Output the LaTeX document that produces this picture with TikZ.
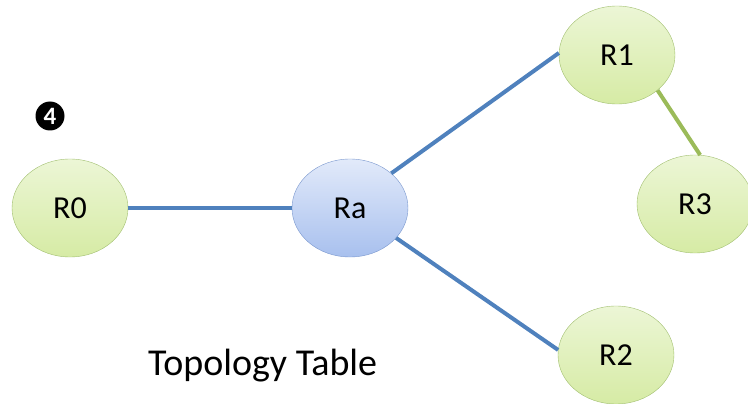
\documentclass[tikz,border=0pt]{standalone}
\usepackage{fontspec}
\setmainfont{Carlito}
\usetikzlibrary{positioning,shapes.geometric}

\definecolor{linkblue}{RGB}{79,129,189}
\definecolor{linkgreen}{RGB}{155,187,89}
\definecolor{rtrline}{RGB}{160,190,110}
\definecolor{hubline}{RGB}{120,150,205}
\definecolor{rtrtop}{RGB}{236,246,214}
\definecolor{rtrbot}{RGB}{214,235,165}
\definecolor{hubtop}{RGB}{226,234,250}
\definecolor{hubbot}{RGB}{168,192,238}

\tikzset{
  router/.style={ellipse, draw=rtrline, thin, top color=rtrtop, bottom color=rtrbot,
    minimum width=116, minimum height=98, inner sep=0pt, font=\fontsize{32}{34}\selectfont},
  hub/.style={router, draw=hubline, top color=hubtop, bottom color=hubbot},
  link/.style={line width=4pt, linkblue},
  stub/.style={line width=4pt, linkgreen},
}

\begin{document}
\begin{tikzpicture}[x=1pt, y=-1pt]
\useasboundingbox (0,0) rectangle (748,404);

% === ROUTERS ===
\node[router] (r0) at (70,208) {R0};
\node[hub] (ra) at (350,208) {Ra};
\node[router] (r1) at (617,55) {R1};
\node[router] (r3) at (695,204) {R3};
\node[router] (r2) at (616,355) {R2};

% step marker
\node[circle, fill=black, inner sep=0pt, minimum size=29, text=white, font=\bfseries\fontsize{25}{25}\selectfont] (mark) at (50,116) {4};

% === LINKS ===
\draw[link] (r0.east) -- (ra.west);
\draw[link] (ra.40) -- (r1.178);
\draw[link] (ra.-33) -- (r2.175);
\draw[stub] (r1.-41) -- (r3.84);

% caption
\node[anchor=base west, inner sep=0pt, font=\fontsize{38}{40}\selectfont] (title) at (148,375) {Topology Table};

\end{tikzpicture}
\end{document}
